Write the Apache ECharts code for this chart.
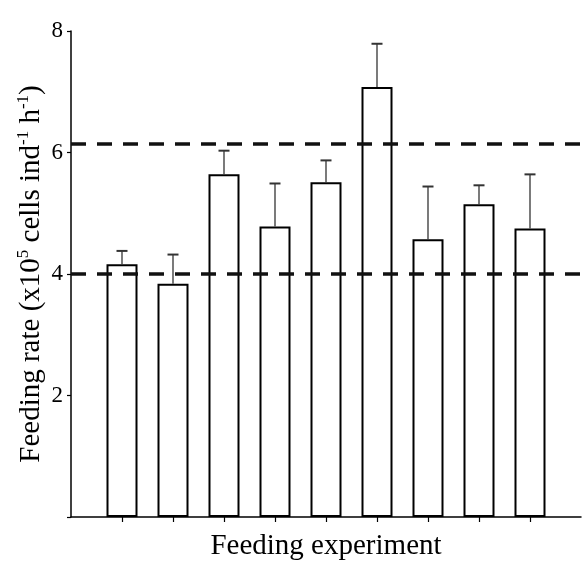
<!DOCTYPE html>
<html>
<head>
<meta charset="utf-8">
<script src="https://cdn.jsdelivr.net/npm/echarts@6/dist/echarts.min.js"></script>
<style>
  html, body { margin: 0; padding: 0; background: #fff; }
  #chart { width: 586px; height: 563px; }
</style>
</head>
<body>
<div id="chart"></div>
<script>
// experiment number (x position), mean feeding rate, upper error
const experiments = [1, 2, 3, 4, 5, 6, 7, 8, 9];
const feedingRate = [4.16, 3.84, 5.64, 4.78, 5.51, 7.08, 4.57, 5.15, 4.75];
const errorTop = [4.38, 4.32, 6.03, 5.49, 5.87, 7.79, 5.44, 5.46, 5.64];
// dashed reference levels
const refLevels = [4.0, 6.15];
const yTicks = [0, 2, 4, 6, 8];

const chart = echarts.init(document.getElementById('chart'));

const font = '"Liberation Serif", "Times New Roman", serif';

const barData = experiments.map((x, i) => [x, feedingRate[i]]);
const errData = experiments.map((x, i) => [x, feedingRate[i], errorTop[i]]);

const option = {
  animation: false,
  backgroundColor: '#fff',
  grid: { left: 71, right: 5, top: 31, bottom: 46, outerBoundsMode: 'none' },
  xAxis: {
    type: 'value',
    min: 0,
    max: 10,
    name: 'Feeding experiment',
    nameLocation: 'middle',
    nameGap: 15,
    nameMoveOverlap: false,
    nameTextStyle: { fontFamily: font, fontSize: 29, color: '#000', verticalAlign: 'top' },
    axisLine: { lineStyle: { color: '#000', width: 1.5 } },
    axisTick: { show: true, length: 5, customValues: experiments, lineStyle: { color: '#000', width: 1.2 } },
    axisLabel: { show: false },
    splitLine: { show: false }
  },
  yAxis: {
    type: 'value',
    min: yTicks[0],
    max: yTicks[yTicks.length - 1],
    interval: 2,
    name: '{t|Feeding rate (x10}{s|5}{t| cells ind}{s|-1}{t| h}{s|-1}{t|)}',
    nameLocation: 'middle',
    nameGap: 24,
    nameMoveOverlap: false,
    nameTextStyle: {
      rich: {
        t: { fontFamily: font, fontSize: 29, color: '#000', lineHeight: 32 },
        s: { fontFamily: font, fontSize: 17, color: '#000', verticalAlign: 'top', lineHeight: 32 }
      }
    },
    axisLine: { show: true, lineStyle: { color: '#000', width: 1.5 } },
    axisTick: { show: true, length: 4, lineStyle: { color: '#000', width: 1.2 } },
    axisLabel: {
      fontFamily: font,
      fontSize: 23,
      color: '#000',
      margin: 8,
      formatter: v => (v === 0 ? '' : String(v))
    },
    splitLine: { show: false }
  },
  series: [
    {
      type: 'bar',
      data: barData,
      barWidth: 31,
      itemStyle: { color: '#fff', borderColor: '#000', borderWidth: 2 },
      z: 2,
      markLine: {
        silent: true,
        symbol: ['none', 'none'],
        label: { show: false },
        lineStyle: { color: '#111', width: 3.5, type: [15, 11] },
        data: refLevels.map(v => ({ yAxis: v }))
      }
    },
    {
      type: 'custom',
      data: errData,
      z: 3,
      renderItem: (params, api) => {
        const base = api.coord([api.value(0), api.value(1)]);
        const top = api.coord([api.value(0), api.value(2)]);
        const half = 5.5;
        const style = { stroke: '#333', lineWidth: 1.3 };
        return {
          type: 'group',
          children: [
            { type: 'line', shape: { x1: base[0], y1: base[1], x2: top[0], y2: top[1] }, style },
            { type: 'line', shape: { x1: top[0] - half, y1: top[1], x2: top[0] + half, y2: top[1] }, style: { stroke: '#333', lineWidth: 2 } }
          ]
        };
      }
    }
  ]
};

chart.setOption(option);
</script>
</body>
</html>
